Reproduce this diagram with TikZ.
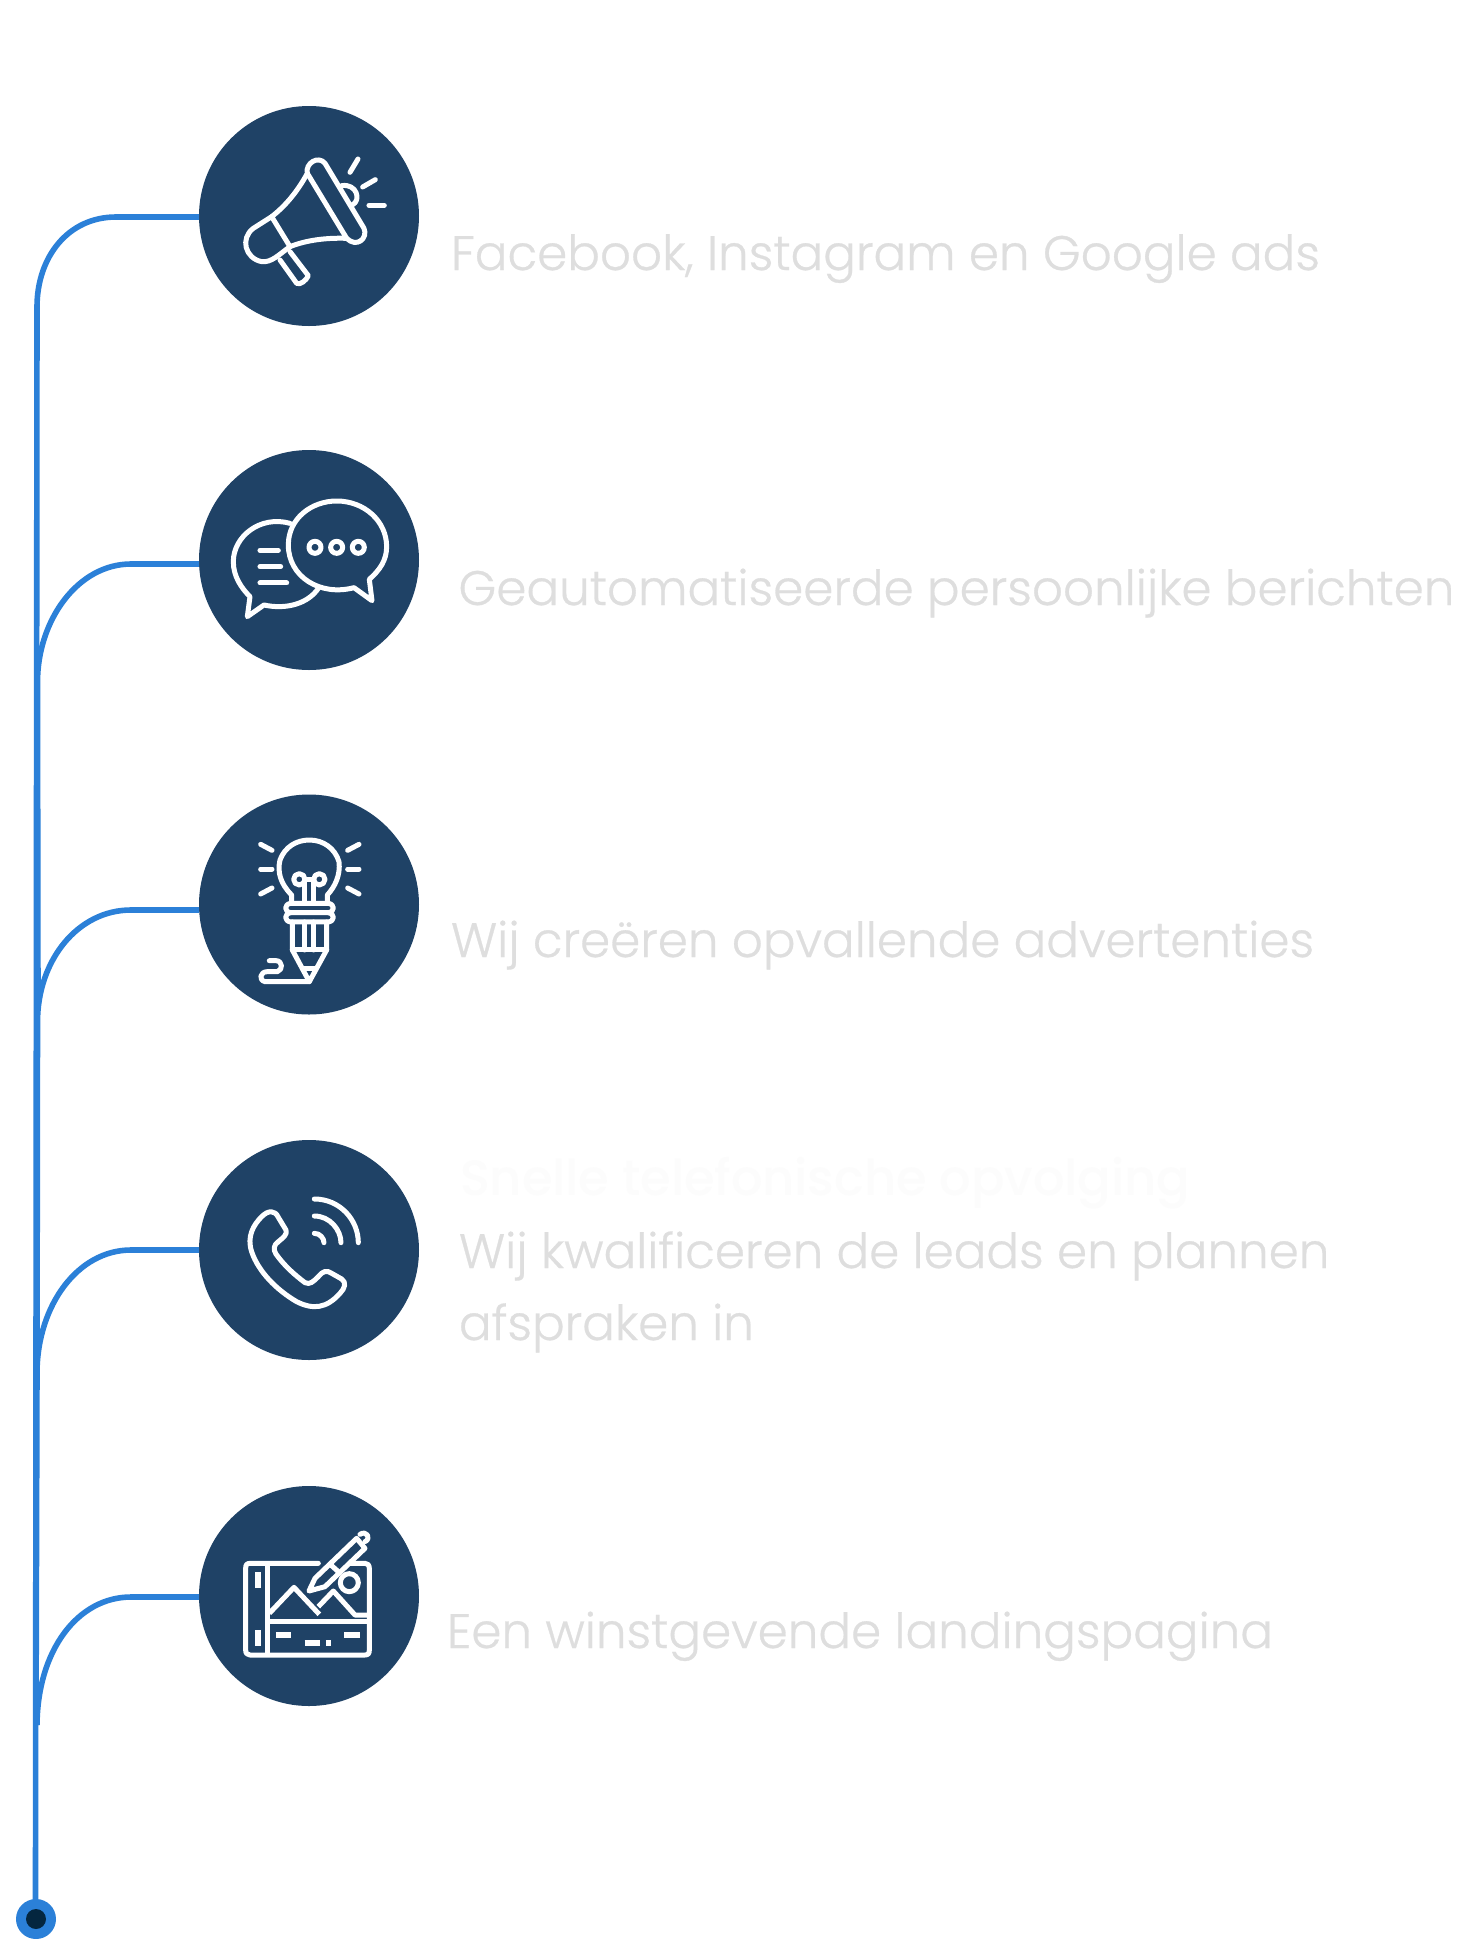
\documentclass[tikz,border=0pt]{standalone}
\usepackage{fontspec}
\setmainfont[UprightFont=* Light,UprightFeatures={FakeBold=0.6}]{Poppins}
\newfontfamily\ghostfont[UprightFont=* Medium]{Poppins}
\definecolor{navy}{HTML}{1F4266}
\definecolor{wire}{HTML}{2B80D8}
\definecolor{dotcore}{HTML}{04263F}
\definecolor{lbl}{HTML}{DEDEDE}
\definecolor{ghost}{HTML}{FCFCFC}
\tikzset{
  disc/.style={circle,fill=navy,draw=none,minimum size=220pt,inner sep=0pt,outer sep=0pt},
  wireline/.style={draw=wire,line width=5.6pt},
  ico/.style={draw=white,line width=5pt,line cap=round,line join=round},
  lab/.style={anchor=base west,inner sep=0pt,outer sep=0pt,text=lbl,font=\fontsize{48.4}{72}\selectfont},
  ghostlab/.style={anchor=base west,inner sep=0pt,outer sep=0pt,text=ghost,font=\ghostfont\fontsize{49.5}{60}\selectfont},
}
\begin{document}
\begin{tikzpicture}[x=1pt,y=-1pt]
\useasboundingbox (0,0) rectangle (1460,1939);
\fill[white] (0,0) rectangle (1460,1939);
% discs
\node[disc] (d1) at (309,216) {};
\node[disc] (d2) at (309,560) {};
\node[disc] (d3) at (309,904.5) {};
\node[disc] (d4) at (309,1250) {};
\node[disc] (d5) at (309,1596) {};
\coordinate (s1) at (37,307);
\coordinate (bottom) at (36,1919);
% wires
\draw[wireline] (d1.west |- 0,217) -- (116,217) .. controls (68,217) and (37,257) .. (s1) -- (35.5,1900);
\draw[wireline] (d2.west |- 0,564) -- (131,564) .. controls (78,564) and (37.5,620) .. (37.5,682) -- (38,1000);
\draw[wireline] (d3.west |- 0,910) -- (131,910) .. controls (78,910) and (37.5,960) .. (37.5,1022) -- (37,1372);
\draw[wireline] (d4.west |- 0,1250) -- (131,1250) .. controls (78,1250) and (37.5,1305) .. (37,1372) -- (36,1725);
\draw[wireline] (d5.west |- 0,1597) -- (131,1597) .. controls (78,1597) and (37.5,1650) .. (37,1725);
\node[circle,fill=wire,minimum size=40pt,inner sep=0pt] (dot) at (bottom) {};
\node[circle,fill=dotcore,minimum size=20pt,inner sep=0pt] (dotc) at (bottom) {};
% labels
\node[ghostlab] (t0) at (460,1195) {Snelle telefonische opvolging};
\node[lab] (t1) at (451,270) {Facebook, Instagram en Google ads};
\node[lab] (t2) at (458.5,605) {Geautomatiseerde persoonlijke berichten};
\node[lab] (t3) at (451,957) {Wij creëren opvallende advertenties};
\node[lab] (t4a) at (459,1268) {Wij kwalificeren de leads en plannen};
\node[lab] (t4b) at (459,1340) {afspraken in};
\node[lab] (t5) at (447,1648) {Een winstgevende landingspagina};
% icon 1: megaphone
\begin{scope}[shift={(190,95)},x=0.3333pt,y=-0.3333pt,ico]
\draw (352,235) .. controls (345,205) and (385,180) .. (405,205) -- (522,400) .. controls (535,430) and (500,460) .. (470,430) -- cycle;
\draw (352,235) .. controls (325,285) and (290,330) .. (245,365) -- (190,400) .. controls (150,430) and (165,490) .. (215,500) .. controls (245,503) and (265,480) .. (300,455) .. controls (350,435) and (410,428) .. (470,430);
\draw (245,365) -- (300,455);
\draw (270,495) -- (320,565) .. controls (330,572) and (350,555) .. (355,542) -- (300,470);
\draw (455,272) .. controls (500,265) and (515,315) .. (487,330);
\draw (480,232) -- (504,192);
\draw (518,276) -- (556,254);
\draw (537,331) -- (583,331);
\end{scope}
% icon 2: chat bubbles
\begin{scope}[shift={(190,440)},x=0.3333pt,y=-0.3333pt,ico]
\draw (300,250) .. controls (210,225) and (130,290) .. (130,365) .. controls (130,410) and (155,445) .. (180,470) -- (172,530) -- (222,495) .. controls (290,510) and (355,490) .. (385,445);
\draw (295,315) .. controls (295,235) and (365,183) .. (440,183) .. controls (525,183) and (590,245) .. (590,320) .. controls (590,360) and (570,390) .. (538,418) -- (546,482) -- (492,443) .. controls (390,470) and (295,410) .. (295,315) -- cycle;
\foreach \xx in {375,440,505} \draw (\xx,322) circle[radius=18];
\draw (210,331) -- (265,331);
\draw (210,380) -- (272,380);
\draw (210,429) -- (290,429);
\end{scope}
% icon 3: bulb pencil
\begin{scope}[shift={(190,785)},x=0.3333pt,y=-0.3333pt,ico]
\draw (305,350) -- (305,330) .. controls (270,295) and (262,260) .. (270,225) .. controls (285,185) and (320,165) .. (358,165) .. controls (400,165) and (435,190) .. (447,230) .. controls (452,270) and (435,305) .. (412,330) -- (412,350);
\draw (328,283) circle[radius=17];
\draw (388,283) circle[radius=17];
\draw (345,283) -- (371,283);
\draw (345,290) -- (345,350) (371,290) -- (371,350);
\draw (302,355) -- (415,355) .. controls (435,358) and (435,380) .. (415,383) -- (302,383) .. controls (282,380) and (282,358) .. (302,355) -- cycle;
\draw (302,383) .. controls (282,386) and (282,408) .. (302,411) -- (415,411) .. controls (435,408) and (435,386) .. (415,383);
\draw (307,411) -- (307,495) -- (358,590) -- (410,495) -- (410,411);
\draw (345,411) -- (345,495) (372,411) -- (372,495);
\draw (307,495) -- (410,495);
\draw (340,550) -- (376,550);
\draw (358,590) -- (225,590) .. controls (205,585) and (210,560) .. (232,560) -- (262,560) .. controls (280,555) and (278,527) .. (258,527) -- (238,527);
\draw (212,178) -- (246,196);
\draw (212,252) -- (246,252);
\draw (212,327) -- (246,309);
\draw (507,178) -- (473,196);
\draw (507,252) -- (473,252);
\draw (507,327) -- (473,309);
\end{scope}
% icon 4: phone
\begin{scope}[shift={(190,1130)},x=0.3333pt,y=-0.3333pt,ico]
\draw (215,260) .. controls (235,240) and (255,240) .. (265,262) -- (288,300) .. controls (292,315) and (280,322) .. (265,335) .. controls (250,345) and (250,360) .. (258,372) .. controls (285,410) and (315,435) .. (345,458) .. controls (360,465) and (370,455) .. (385,440) .. controls (400,422) and (410,420) .. (425,430) -- (455,447) .. controls (470,457) and (465,475) .. (450,490) .. controls (410,535) and (370,540) .. (320,515) .. controls (260,480) and (205,425) .. (185,365) .. controls (170,320) and (190,285) .. (215,260) -- cycle;
\draw (373,207) .. controls (450,207) and (505,270) .. (505,338);
\draw (373,258) .. controls (420,258) and (453,300) .. (453,338);
\draw (373,310) .. controls (390,310) and (402,325) .. (402,338);
\end{scope}
% icon 5: tablet with pen
\begin{scope}[shift={(190,1475)},x=0.3333pt,y=-0.3333pt,ico]
\draw (385,265) -- (180,265) .. controls (170,265) and (167,270) .. (167,280) -- (167,525) .. controls (167,535) and (172,540) .. (180,540) -- (525,540) .. controls (535,540) and (538,535) .. (538,525) -- (538,280) .. controls (538,270) and (533,265) .. (525,265) -- (480,265);
\draw[line cap=butt] (234,265) -- (234,540);
\draw[line cap=butt] (234,440) -- (538,440);
\draw[line cap=butt] (238,415) -- (312,337) -- (388,418);
\draw[line cap=butt] (385,395) -- (430,348) -- (495,420) -- (538,420);
\draw (478,323) circle[radius=27];
\draw[line cap=butt,line width=6pt] (203,292) -- (203,338);
\draw[line cap=butt,line width=6pt] (203,465) -- (203,512);
\draw[line cap=butt,line width=6pt] (258,481) -- (304,481);
\draw[line cap=butt,line width=6pt] (463,481) -- (510,481);
\draw[line cap=butt,line width=6pt] (344,505) -- (390,505);
\draw[line cap=butt,line width=6pt] (408,505) -- (423,505);
\draw (357,348) -- (375,310) -- (500,190) -- (525,220) -- (405,335) -- cycle;
\draw (425,272) -- (445,290);
\draw (510,178) .. controls (530,165) and (545,190) .. (525,200);
\end{scope}
\end{tikzpicture}
\end{document}
